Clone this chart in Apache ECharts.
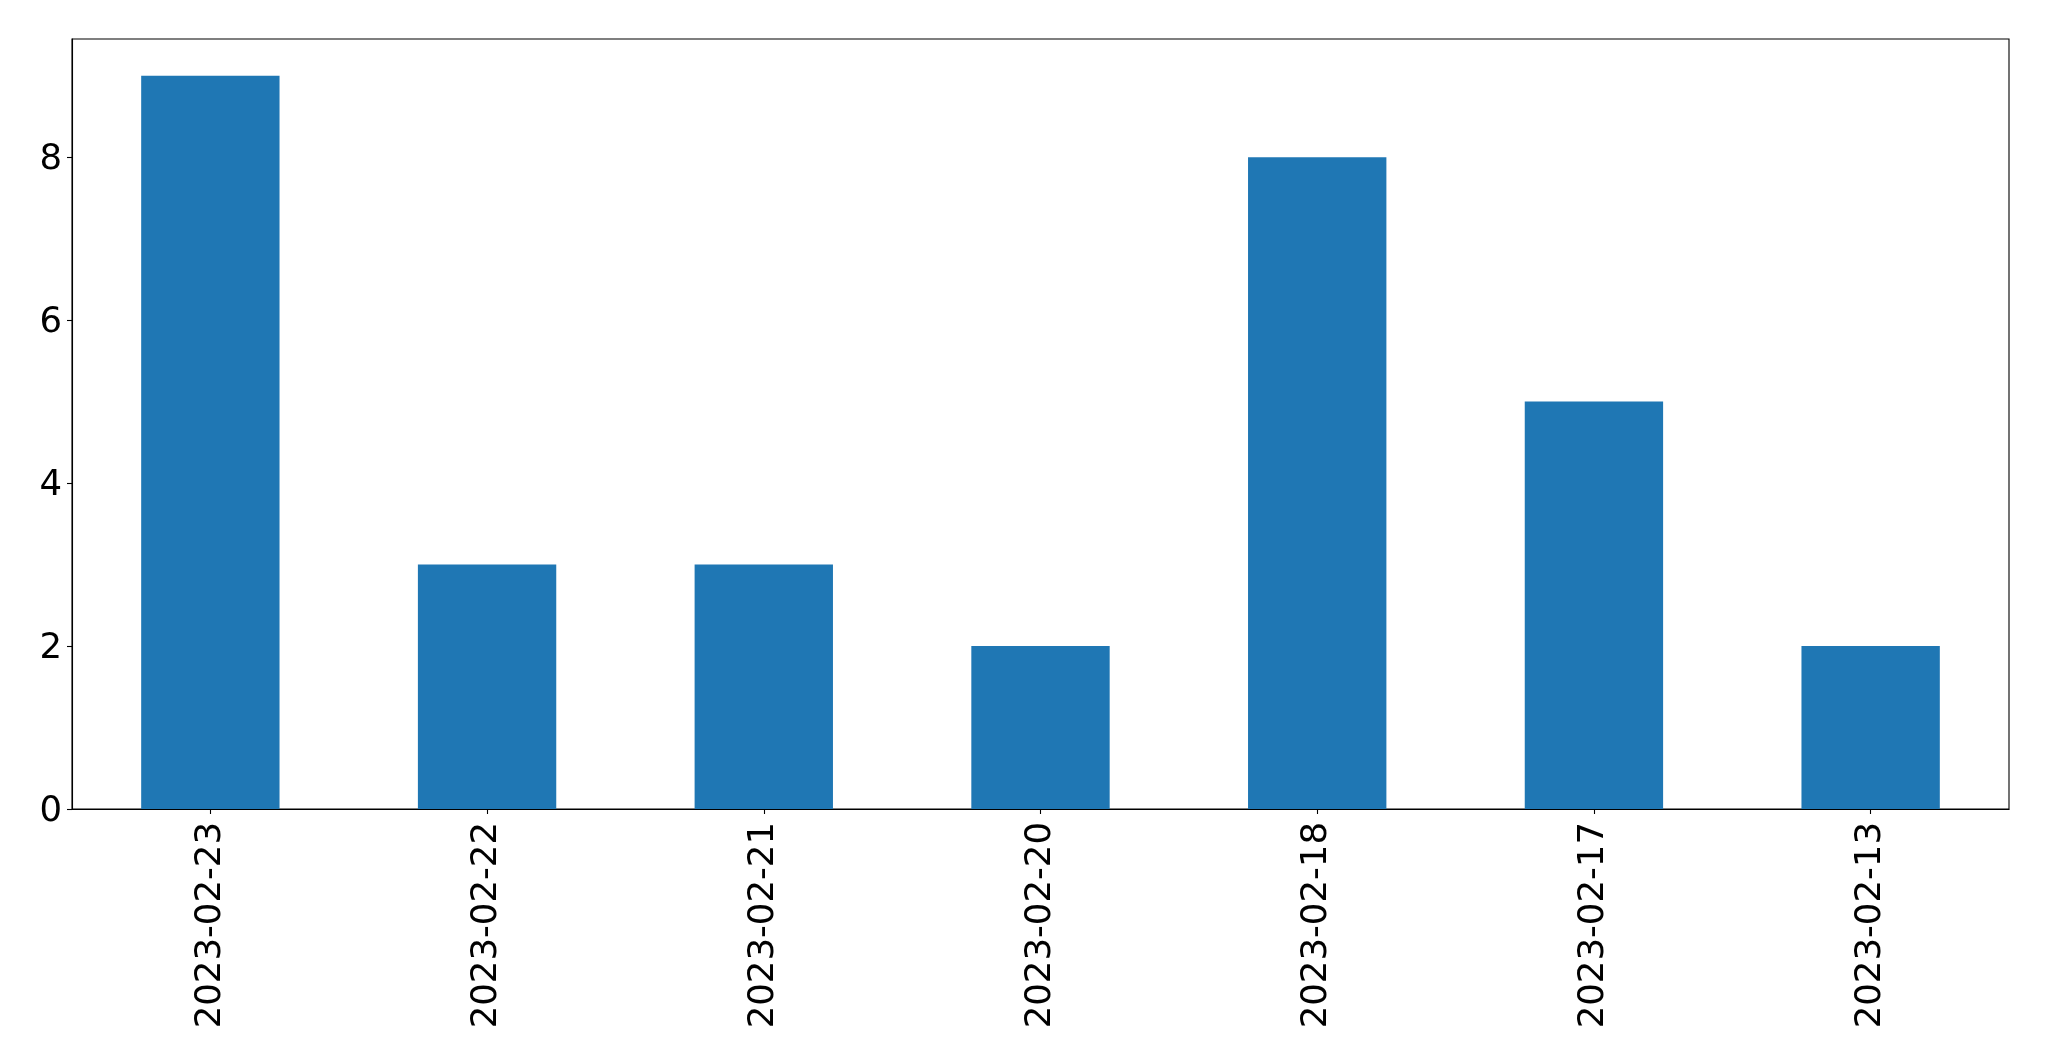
<!DOCTYPE html>
<html>
<head>
<meta charset="utf-8">
<script src="https://cdn.jsdelivr.net/npm/echarts@6/dist/echarts.min.js"></script>
<style>
html,body{margin:0;padding:0;background:#fff;}
#main{width:2049px;height:1061px;}
</style>
</head>
<body>
<div id="main"></div>
<script>
const categories = ["2023-02-23","2023-02-22","2023-02-21","2023-02-20","2023-02-18","2023-02-17","2023-02-13"];
const values = [9, 3, 3, 2, 8, 5, 2];
const yTicks = [0, 2, 4, 6, 8];

const chart = echarts.init(document.getElementById('main'), null, {renderer: 'canvas'});
const font = 'DejaVu Sans';
chart.setOption({
  animation: false,
  backgroundColor: '#fff',
  grid: {
    left: 72, right: 40, top: 39, bottom: 252,
    show: true, borderColor: '#000', borderWidth: 1.1, backgroundColor: 'transparent'
  },
  xAxis: {
    type: 'category',
    data: categories,
    boundaryGap: true,
    axisLine: {show: true, lineStyle: {color: '#000', width: 1.1}},
    axisTick: {show: true, alignWithLabel: true, length: 5, lineStyle: {color: '#000', width: 1.1}},
    axisLabel: {rotate: 90, margin: 13, fontFamily: font, fontSize: 35.5, color: '#000'},
    splitLine: {show: false}
  },
  yAxis: {
    type: 'value',
    min: 0, max: 9.45, interval: 2,
    axisLine: {show: true, lineStyle: {color: '#000', width: 1.1}},
    axisTick: {show: true, length: 5, customValues: yTicks, lineStyle: {color: '#000', width: 1.1}},
    axisLabel: {
      margin: 10, fontFamily: font, fontSize: 35.5, color: '#000', customValues: yTicks,
      formatter: function (v) { return '{a|' + v + '}'; },
      rich: {a: {fontFamily: font, fontSize: 35.5, color: '#000', padding: [6, 0, 0, 0]}}
    },
    splitLine: {show: false}
  },
  series: [{
    type: 'bar',
    data: values,
    barWidth: '50%',
    itemStyle: {color: '#1f77b4'}
  }]
});
</script>
</body>
</html>
